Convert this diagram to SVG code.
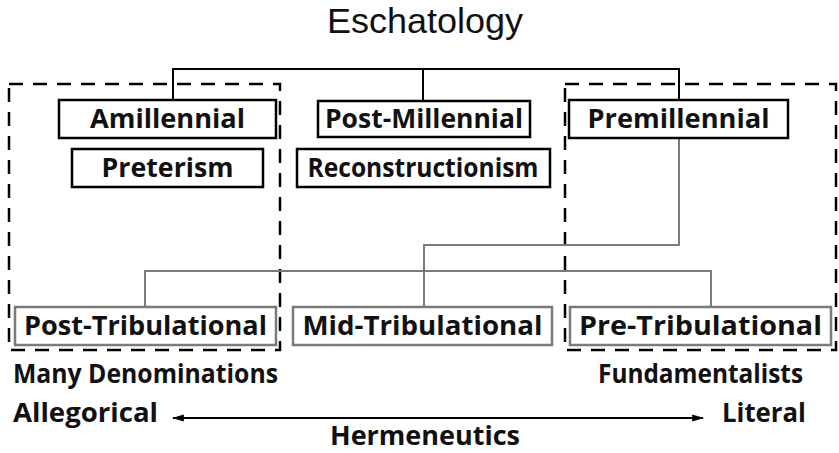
<svg xmlns="http://www.w3.org/2000/svg" width="839" height="453" viewBox="0 0 839 453">
<defs>
<style>
.t{font-family:"Open Sans","Noto Sans","DejaVu Sans",sans-serif;font-weight:bold;font-size:27px;fill:#111;text-anchor:middle}
.bk{fill:#fff;stroke:#000;stroke-width:2.5}
.gr{fill:#fff;stroke:#7a7a7a;stroke-width:2.5}
.cb{fill:none;stroke:#000;stroke-width:2}
.cg{fill:none;stroke:#7a7a7a;stroke-width:2}
.dash{fill:none;stroke:#000;stroke-width:2.5;stroke-dasharray:14 10}
</style>
<marker id="ah" viewBox="0 0 10 10" refX="9" refY="5" markerWidth="6" markerHeight="6" orient="auto-start-reverse"><path d="M0,2 L10,5 L0,8 z" fill="#000"/></marker>
</defs>
<rect width="839" height="453" fill="#fff"/>
<text x="425" y="33" font-family="Liberation Sans,Arial,sans-serif" font-size="35" text-anchor="middle" fill="#111" textLength="196" lengthAdjust="spacingAndGlyphs">Eschatology</text>
<g id="groups">
<rect class="dash" x="9" y="84" width="271" height="266"/>
<rect class="dash" x="565" y="84" width="271" height="266"/>
</g>
<g id="connectors">
<path class="cb" d="M173,100 V69 H679 V100 M423,69 V101"/>
<path class="cg" d="M679,138 V245 H424 V307 M145,307 V271 H711 V307"/>
<line x1="173" y1="418" x2="703" y2="418" stroke="#000" stroke-width="2" marker-start="url(#ah)" marker-end="url(#ah)"/>
</g>
<g id="amillennial"><rect class="bk" x="59" y="100" width="217" height="38"/><text class="t" x="167.5" y="128" textLength="155" lengthAdjust="spacingAndGlyphs">Amillennial</text></g>
<g id="preterism"><rect class="bk" x="72" y="149" width="191" height="38"/><text class="t" x="167.5" y="177" textLength="132" lengthAdjust="spacingAndGlyphs">Preterism</text></g>
<g id="postmillennial"><rect class="bk" x="318" y="101" width="212" height="36"/><text class="t" x="424" y="128" textLength="198" lengthAdjust="spacingAndGlyphs">Post-Millennial</text></g>
<g id="reconstructionism"><rect class="bk" x="297" y="149" width="253" height="38"/><text class="t" x="423" y="177" textLength="231" lengthAdjust="spacingAndGlyphs">Reconstructionism</text></g>
<g id="premillennial"><rect class="bk" x="569" y="100" width="219" height="38"/><text class="t" x="678.5" y="128" textLength="182" lengthAdjust="spacingAndGlyphs">Premillennial</text></g>
<g id="posttrib"><rect class="gr" x="15" y="307" width="261" height="38"/><text class="t" x="145.5" y="335" textLength="243" lengthAdjust="spacingAndGlyphs">Post-Tribulational</text></g>
<g id="midtrib"><rect class="gr" x="293" y="307" width="259" height="38"/><text class="t" x="422.5" y="335" textLength="240" lengthAdjust="spacingAndGlyphs">Mid-Tribulational</text></g>
<g id="pretrib"><rect class="gr" x="570" y="307" width="261" height="38"/><text class="t" x="700.5" y="335" textLength="243" lengthAdjust="spacingAndGlyphs">Pre-Tribulational</text></g>
<g id="labels">
<text class="t" x="145.5" y="383" textLength="265" lengthAdjust="spacingAndGlyphs">Many Denominations</text>
<text class="t" x="700.5" y="383" textLength="205" lengthAdjust="spacingAndGlyphs">Fundamentalists</text>
<text class="t" x="85.5" y="422" textLength="145" lengthAdjust="spacingAndGlyphs">Allegorical</text>
<text class="t" x="764" y="422" textLength="84" lengthAdjust="spacingAndGlyphs">Literal</text>
<text class="t" x="425" y="445" textLength="190" lengthAdjust="spacingAndGlyphs">Hermeneutics</text>
</g>
</svg>
